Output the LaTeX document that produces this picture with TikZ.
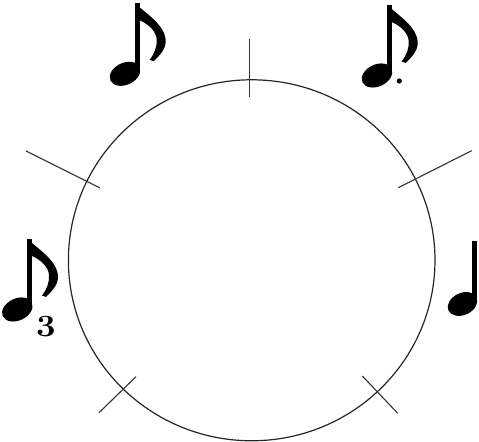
\documentclass[tikz,border=0pt]{standalone}
\begin{document}
\begin{tikzpicture}[x=0.5pt,y=0.5pt,
  ring/.style={line width=0.6pt, draw=black!85},
  tick/.style={line width=0.55pt, draw=black!80},
  eighthnote/.pic={
    \fill (-4.6,0) rectangle (0,-68);
    \fill[shift={(-14.7,-70.5)}, rotate=25] (0,0) ellipse [x radius=16, y radius=11];
    \fill (-4.6,0) .. controls (6,-10) and (26,-22) .. (26,-38)
          .. controls (26,-46) and (20,-52) .. (14,-58)
          -- (10,-56.5) .. controls (15,-50) and (17.5,-43) .. (17,-36)
          .. controls (16.5,-28) and (9,-21) .. (0,-17) -- cycle;
  },
  quarternote/.pic={
    \fill (-4.4,0) rectangle (0,-62);
    \fill[shift={(-14.2,-63)}, rotate=25] (0,0) ellipse [x radius=15.5, y radius=11];
  }]
\useasboundingbox (0,0) rectangle (479,442);
% circle
\draw[ring] (251.7,181.7) ellipse [x radius=183.3, y radius=180.5];
% ticks
\coordinate (t1a) at (249.5,403); \coordinate (t1b) at (249.5,345);
\coordinate (t2a) at (26,291);    \coordinate (t2b) at (100,254);
\coordinate (t3a) at (471.7,291.3); \coordinate (t3b) at (398.3,254.3);
\coordinate (t4a) at (136,65.3);  \coordinate (t4b) at (99,29.3);
\coordinate (t5a) at (362.3,66);  \coordinate (t5b) at (397.7,28.7);
\draw[tick] (t1a) -- (t1b);
\draw[tick] (t2a) -- (t2b);
\draw[tick] (t3a) -- (t3b);
\draw[tick] (t4a) -- (t4b);
\draw[tick] (t5a) -- (t5b);
% notes
\pic (ul) at (139.7,438.7) {eighthnote};
\pic (ur) at (391.7,437) {eighthnote};
\fill (399.3,361) circle [radius=2.6];
\pic (lf) at (32,203) {eighthnote};
\node[inner sep=0pt, font=\fontsize{15.5}{15.5}\selectfont\bfseries] (three) at (45.8,115.5) {\scalebox{1.12}[1]{3}};
\pic (rt) at (476.7,201) {quarternote};
\end{tikzpicture}
\end{document}
